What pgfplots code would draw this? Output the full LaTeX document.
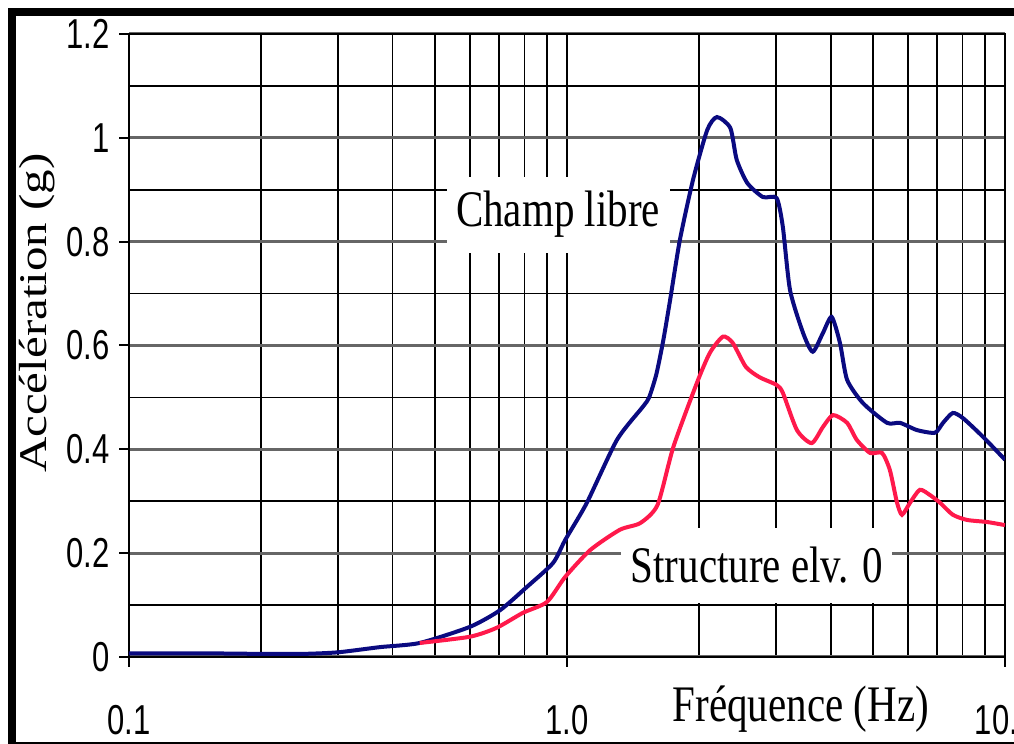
\documentclass[border=0pt]{standalone}
\usepackage{fontspec}
\setmainfont{Liberation Serif}
\newfontfamily\arialfont{Liberation Sans}
\usepackage{graphicx}
\usepackage{pgfplots}
\pgfplotsset{compat=1.18}

\definecolor{champ}{RGB}{10,10,128}
\definecolor{struct}{RGB}{255,25,75}
% tick labels and texts are stretched vertically in the source picture
\newcommand\tl[1]{\scalebox{1}[1.35]{\arialfont\fontsize{15.5}{16}\selectfont #1}}
\newcommand\lb[1]{\scalebox{1}[1.25]{\fontsize{20.5}{22}\selectfont #1}}
\newcommand\lby[1]{\scalebox{1.25}[1]{\fontsize{19.6}{22}\selectfont #1}}

\begin{document}
\begin{tikzpicture}
\begin{axis}[
    at={(64.5pt,43.5pt)}, anchor=south west,
    scale only axis, width=438pt, height=311.5pt,
    xmode=log, xmin=0.1, xmax=10, ymin=0, ymax=1.2,
    xtick={0.1,1,10}, xticklabels={\tl{0.1},\tl{1.0},\tl{10.0}},
    minor xtick={0.2,0.3,0.4,0.5,0.6,0.7,0.8,0.9,2,3,4,5,6,7,8,9},
    ytick={0,0.2,0.4,0.6,0.8,1,1.2},
    yticklabels={\tl{0},\tl{0.2},\tl{0.4},\tl{0.6},\tl{0.8},\tl{1},\tl{1.2}},
    minor ytick={0.1,0.3,0.5,0.7,0.9,1.1},
    grid=both,
    major x grid style={black, line width=0.8pt},
    minor grid style={black, line width=0.8pt},
    major y grid style={black!60, line width=1.5pt},
    axis line style={black, line width=1pt},
    tick align=outside, tick pos=left,
    major tick length=5pt, minor tick length=0pt,
    tick style={black, line width=1pt},
    yticklabel style={anchor=east, inner sep=0pt, xshift=-4.5pt},
    xticklabel style={anchor=center, inner sep=0pt, yshift=-26.5pt},
    xlabel={\lb{Fréquence (Hz)}},
    xlabel style={at={(axis description cs:0.767,-0.083)}, anchor=center, inner sep=0pt},
    ylabel={\lby{Accélération (g)}},
    ylabel style={at={(axis description cs:-0.105,0.552)}, anchor=center, inner sep=0pt},
]
\node[fill=white, inner sep=0pt, minimum width=111.5pt, minimum height=38pt]
    at (axis cs:0.954,0.852) {\lb{Champ libre}};
\node[fill=white, inner sep=0pt, minimum width=135.5pt, minimum height=37.5pt]
    at (axis cs:2.715,0.177) {\lb{Structure elv. 0}};

% Champ libre
\addplot[champ, line width=2pt, smooth, tension=0.4] coordinates {
(0.1,0.007) (0.15,0.007) (0.2,0.006) (0.25,0.006) (0.3,0.009) (0.374,0.019)
(0.461,0.027) (0.60,0.058) (0.703,0.09) (0.81,0.135) (0.929,0.181) (0.99,0.225)
(1.11,0.297) (1.30,0.418) (1.49,0.482) (1.54,0.50) (1.60,0.545) (1.66,0.611)
(1.72,0.688) (1.81,0.803) (1.94,0.919) (2.09,1.015) (2.20,1.04) (2.36,1.019)
(2.44,0.958) (2.58,0.913) (2.80,0.886) (3.01,0.884) (3.11,0.829) (3.23,0.707)
(3.46,0.624) (3.64,0.588) (3.84,0.624) (4.02,0.655) (4.20,0.605) (4.36,0.534)
(4.74,0.489) (5.38,0.451) (5.76,0.451) (6.30,0.437) (6.92,0.432) (7.22,0.451)
(7.60,0.47) (8.02,0.46) (8.91,0.424) (10,0.38)
};
% Structure elv. 0
\addplot[struct, line width=2pt, smooth, tension=0.4] coordinates {
(0.461,0.027) (0.60,0.039) (0.69,0.056) (0.793,0.085) (0.90,0.106) (0.99,0.154)
(1.13,0.206) (1.32,0.245) (1.47,0.258) (1.61,0.293) (1.75,0.405) (1.98,0.528)
(2.12,0.586) (2.27,0.617) (2.39,0.605) (2.56,0.559) (2.75,0.539) (3.01,0.524)
(3.11,0.509) (3.35,0.437) (3.62,0.412) (3.84,0.443) (4.05,0.466) (4.36,0.451)
(4.59,0.418) (4.92,0.393) (5.24,0.393) (5.46,0.36) (5.67,0.297) (5.82,0.274)
(6.07,0.297) (6.39,0.322) (6.74,0.312) (7.11,0.297) (7.60,0.274) (8.19,0.264)
(9.10,0.26) (10,0.254)
};
\end{axis}
% outer frame of the figure
\draw[line width=4pt] (560pt,365.75pt) -- (6pt,365.75pt) -- (6pt,-5pt);
\draw[line width=1pt] (6pt,0.5pt) -- (560pt,0.5pt);
\pgfresetboundingbox
\useasboundingbox (0,0) rectangle (507pt,372pt);
\end{tikzpicture}
\end{document}
